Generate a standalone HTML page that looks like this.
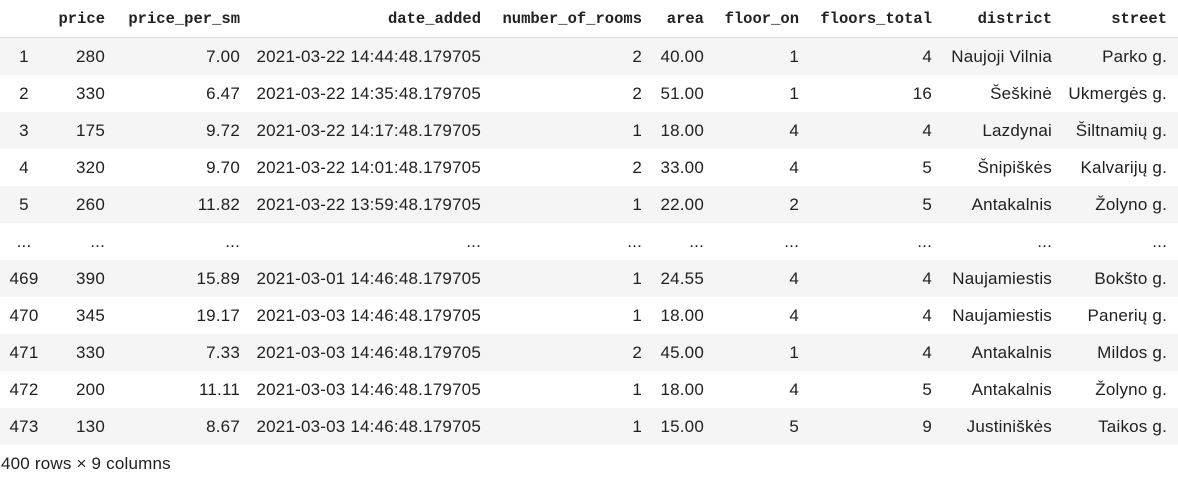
<!DOCTYPE html>
<html><head><meta charset="utf-8">
<style>
body{margin:0;width:1178px;height:478px;background:#fff;position:relative;overflow:hidden;font-family:"Liberation Sans",sans-serif;color:#212121}
.row{position:absolute;left:0;width:1178px;height:37px}
.hdr{height:38px;border-bottom:1px solid #ddd;box-sizing:border-box}
.c{position:absolute;top:0;line-height:37px;font-size:17px;letter-spacing:0.2px;text-align:right;white-space:nowrap}
.hdr .c{font-family:"Liberation Mono",monospace;font-weight:bold;font-size:15.5px;letter-spacing:0;line-height:38px;color:#212121}
.idx{text-align:center;width:48px;left:0}
.foot{position:absolute;left:1px;top:452px;font-size:17px;letter-spacing:0.2px;line-height:24px}
</style></head><body>
<div id="tbl"></div>
<div class="foot">400 rows × 9 columns</div>
<script>
const headers=["price","price_per_sm","date_added","number_of_rooms","area","floor_on","floors_total","district","street"];
const rights=[105,240,481,642,704,799,932,1052,1167];
const idx=["1","2","3","4","5","...","469","470","471","472","473"];
const rows=[
["280","7.00","2021-03-22 14:44:48.179705","2","40.00","1","4","Naujoji Vilnia","Parko g."],
["330","6.47","2021-03-22 14:35:48.179705","2","51.00","1","16","Šeškinė","Ukmergės g."],
["175","9.72","2021-03-22 14:17:48.179705","1","18.00","4","4","Lazdynai","Šiltnamių g."],
["320","9.70","2021-03-22 14:01:48.179705","2","33.00","4","5","Šnipiškės","Kalvarijų g."],
["260","11.82","2021-03-22 13:59:48.179705","1","22.00","2","5","Antakalnis","Žolyno g."],
["...","...","...","...","...","...","...","...","..."],
["390","15.89","2021-03-01 14:46:48.179705","1","24.55","4","4","Naujamiestis","Bokšto g."],
["345","19.17","2021-03-03 14:46:48.179705","1","18.00","4","4","Naujamiestis","Panerių g."],
["330","7.33","2021-03-03 14:46:48.179705","2","45.00","1","4","Antakalnis","Mildos g."],
["200","11.11","2021-03-03 14:46:48.179705","1","18.00","4","5","Antakalnis","Žolyno g."],
["130","8.67","2021-03-03 14:46:48.179705","1","15.00","5","9","Justiniškės","Taikos g."]
];
const tbl=document.getElementById('tbl');
const h=document.createElement('div');
h.className='row hdr';h.style.top='0px';


headers.forEach((t,i)=>{const c=document.createElement('div');c.className='c';c.textContent=t;c.style.right=(1178-rights[i])+'px';


h.appendChild(c);});
tbl.appendChild(h);
rows.forEach((r,j)=>{const d=document.createElement('div');d.className='row';d.style.top=(38+j*37)+'px';
d.style.background=j%2===0?'#f5f5f5':'#fff';


const ic=document.createElement('div');ic.className='c idx';ic.textContent=idx[j];


d.appendChild(ic);
r.forEach((t,i)=>{const c=document.createElement('div');c.className='c';c.textContent=t;c.style.right=(1178-rights[i])+'px';


d.appendChild(c);});
tbl.appendChild(d);});
</script>
</body></html>
